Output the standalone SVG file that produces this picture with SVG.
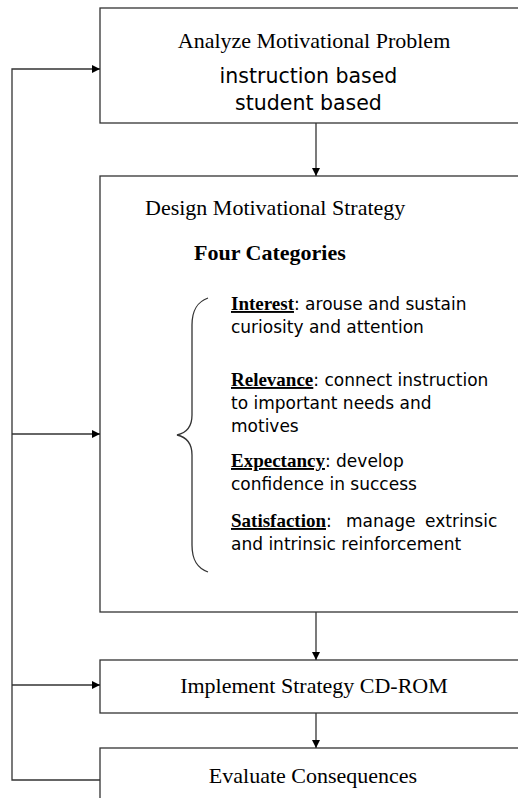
<svg xmlns="http://www.w3.org/2000/svg" width="518" height="798" viewBox="0 0 518 798">
<defs>
<marker id="ah" markerWidth="8" markerHeight="8" refX="8" refY="4" orient="auto" markerUnits="userSpaceOnUse">
<path d="M0,0 L8,4 L0,8 Z" fill="#000"/>
</marker>
<style>
.box{fill:#fff;stroke:#333;stroke-width:1.3}
.ln{fill:none;stroke:#333;stroke-width:1.3}
.serif{font-family:"Liberation Serif","Times New Roman",serif;fill:#000}
.sans{font-family:"DejaVu Sans",Tahoma,sans-serif;fill:#000}
.b{font-weight:bold;text-decoration:underline}
</style>
</defs>
<rect width="518" height="798" fill="#fff"/>
<g id="analyze">
<rect class="box" x="100" y="8" width="440" height="115"/>
<text class="serif" x="314" y="48" font-size="22" text-anchor="middle">Analyze Motivational Problem</text>
<text class="sans" x="308.5" y="83" font-size="20.5" text-anchor="middle">instruction based</text>
<text class="sans" x="308.5" y="110" font-size="20.5" text-anchor="middle">student based</text>
</g>
<g id="design">
<rect class="box" x="100" y="176" width="440" height="436"/>
<text class="serif" x="145" y="215" font-size="22">Design Motivational Strategy</text>
<text class="serif" x="194" y="260" font-size="22" font-weight="bold">Four Categories</text>
<path class="ln" d="M208,298 C197,302 192,310 192,325 L192,415 C192,428 186,433 177,435 C186,437 192,442 192,455 L192,545 C192,560 197,568 208,572"/>
<text class="sans" x="231" y="310" font-size="17"><tspan class="serif b" font-size="19">Interest</tspan>: arouse and sustain</text>
<text class="sans" x="231" y="333" font-size="17">curiosity and attention</text>
<text class="sans" x="231" y="386" font-size="17"><tspan class="serif b" font-size="19">Relevance</tspan>: connect instruction</text>
<text class="sans" x="231" y="409" font-size="17">to important needs and</text>
<text class="sans" x="231" y="432" font-size="17">motives</text>
<text class="sans" x="231" y="467" font-size="17"><tspan class="serif b" font-size="19">Expectancy</tspan>: develop</text>
<text class="sans" x="231" y="490" font-size="17">confidence in success</text>
<text class="sans" x="231" y="527" font-size="17"><tspan class="serif b" font-size="19">Satisfaction</tspan>:<tspan x="346">manage</tspan><tspan x="425">extrinsic</tspan></text>
<text class="sans" x="231" y="550" font-size="17">and intrinsic reinforcement</text>
</g>
<g id="implement">
<rect class="box" x="100" y="660" width="440" height="53"/>
<text class="serif" x="314" y="693" font-size="22" text-anchor="middle">Implement Strategy CD-ROM</text>
</g>
<g id="evaluate">
<rect class="box" x="100" y="748" width="440" height="70"/>
<text class="serif" x="313" y="783" font-size="22" text-anchor="middle">Evaluate Consequences</text>
</g>
<g id="connectors">
<path class="ln" d="M316,123 L316,176" marker-end="url(#ah)"/>
<path class="ln" d="M316,612 L316,660" marker-end="url(#ah)"/>
<path class="ln" d="M316,713 L316,748" marker-end="url(#ah)"/>
<path class="ln" d="M100,780 L12,780 L12,69 L100,69" marker-end="url(#ah)"/>
<path class="ln" d="M12,434 L100,434" marker-end="url(#ah)"/>
<path class="ln" d="M12,685 L100,685" marker-end="url(#ah)"/>
</g>
</svg>
